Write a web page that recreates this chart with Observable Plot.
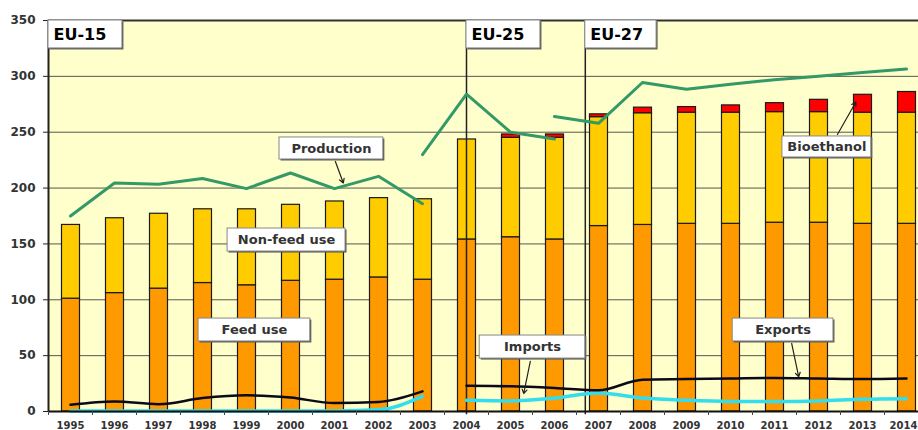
<!DOCTYPE html>
<html><head><meta charset="utf-8">
<script src="https://cdn.jsdelivr.net/npm/d3@7"></script>
<script src="https://cdn.jsdelivr.net/npm/@observablehq/plot@0.6"></script>
<style>
body{margin:0;background:#fff;}
#chart svg{display:block;}
</style></head><body><div id="chart"></div>
<script>
// ---- data (million tonnes) ----
const years = [1995,1996,1997,1998,1999,2000,2001,2002,2003,2004,2005,2006,2007,2008,2009,2010,2011,2012,2013,2014];
const feedUse    = [101,106,110,115,113,117,118,120,118,154,156,154,166,167,168,168,169,169,168,168];
const nonFeedUse = [66,67,67,66,68,68,70,71,72,89.5,89,91,97.5,100,99.5,99.5,99,99,99.5,99.5];
const bioethanol = [0,0,0,0,0,0,0,0,0,0,3,3,2.5,5,5,6.5,8,11,16,18.5];

const yearsEU15 = [1995,1996,1997,1998,1999,2000,2001,2002,2003];
const yearsEU25 = [2003,2004,2005,2006];
const yearsEU27 = [2006,2007,2008,2009,2010,2011,2012,2013,2014];
const yearsEU   = [2004,2005,2006,2007,2008,2009,2010,2011,2012,2013,2014];

const productionEU15 = [175,204.5,203.5,208.5,199.5,213.5,199.5,210.5,186];
const productionEU25 = [230,284,250,244];
const productionEU27 = [264,258,294.5,288.5,293,297,300,303.5,306.5];

const exportsEU15 = [6,9,6.5,12,14.5,12.5,7.5,8.5,18];
const exportsEU   = [23,22.5,21,19,28.5,29,29.5,30,29.5,29,29.5];
const importsEU15 = [0.5,0.5,0.5,0.5,0.5,0.5,0.5,1.5,13.5];
const importsEU   = [10,9.5,12,16.5,12,10,9,9,9.5,11,11.5];

const yTicks = [0,50,100,150,200,250,300,350];
const barTypes = ["Feed use","Non-feed use","Bioethanol"];

// ---- tables built from the arrays ----
const bars = [];
years.forEach((yr, i) => {
  [[barTypes[0], feedUse[i]], [barTypes[1], nonFeedUse[i]], [barTypes[2], bioethanol[i]]]
    .forEach(([type, value]) => { if (value > 0) bars.push({year: yr, type, value}); });
});
const series = (name, ys, vs) => ys.map((yr, i) => ({series: name, year: yr, value: vs[i]}));
const production = [
  ...series("EU-15", yearsEU15, productionEU15),
  ...series("EU-25", yearsEU25, productionEU25),
  ...series("EU-27", yearsEU27, productionEU27)
];
const exportsRows = [...series("EU-15", yearsEU15, exportsEU15), ...series("EU", yearsEU, exportsEU)];
const importsRows = [...series("EU-15", yearsEU15, importsEU15), ...series("EU", yearsEU, importsEU)];
const boundaries = years.map(y => y - 0.5).concat([2014.5]);

// ---- annotations (data coordinates) ----
const annoLabels = ["EU-15","EU-25","EU-27","Production","Non-feed use","Feed use","Imports","Exports","Bioethanol"];
const annoX1 = [1994.5, 2004.0, 2006.7, 1999.75, 1998.57, 1997.91, 2004.3, 2010.05, 2011.18];
const annoX2 = [1996.18, 2005.68, 2008.32, 2002.11, 2001.25, 2000.45, 2006.7, 2012.34, 2013.2];
const annoY1 = [325, 325, 325, 225.6, 143.2, 62.7, 47.4, 62.7, 227.4];
const annoY2 = [350, 350, 350, 245.3, 163.8, 83.2, 68, 83.2, 246.2];
const annos = annoLabels.map((t, i) => ({text: t, x1: annoX1[i], x2: annoX2[i], y1: annoY1[i], y2: annoY2[i], big: i < 3}));
const arrows = [
  {x1: 2001.02, y1: 223.8, x2: 2001.2, y2: 204.5},
  {x1: 2005.45, y1: 44.8, x2: 2005.3, y2: 16},
  {x1: 2011.39, y1: 60.9, x2: 2011.55, y2: 31},
  {x1: 2012.43, y1: 248.0, x2: 2012.85, y2: 277}
];
const separators = [2004.0, 2006.7];

const chart = Plot.plot({
  width: 918,
  height: 430,
  marginLeft: 48,
  marginRight: 0,
  marginTop: 20,
  marginBottom: 19,
  style: {fontFamily: "'DejaVu Sans', sans-serif", fontWeight: "bold", background: "#fff", overflow: "hidden"},
  x: {type: "linear", domain: [1994.5, 2014.5], range: [48, 928], axis: null},
  y: {domain: [0, 350], axis: null},
  color: {domain: barTypes, range: ["#FF9900", "#FFCC00", "#FF0000"]},
  marks: [
    Plot.frame({fill: "#FFFFCC", stroke: null}),
    Plot.gridY(yTicks, {stroke: "#444", strokeOpacity: 0.9, strokeWidth: 1}),
    Plot.rectY(bars, Plot.stackY({
      x1: d => d.year - 0.5, x2: d => d.year + 0.5, y: "value", fill: "type",
      insetLeft: 13.5, insetRight: 12.5, stroke: "#1a1a1a", strokeWidth: 1.2
    })),
    Plot.ruleX(separators, {y1: -3, y2: 350, stroke: "#222", strokeWidth: 1.5}),
    Plot.line(importsRows, {x: "year", y: "value", z: "series", stroke: "#33DDEE", strokeWidth: 3.5, curve: "monotone-x"}),
    Plot.line(exportsRows, {x: "year", y: "value", z: "series", stroke: "#0a0a1a", strokeWidth: 2.5, curve: "monotone-x"}),
    Plot.line(production, {x: "year", y: "value", z: "series", stroke: "#339966", strokeWidth: 3}),
    Plot.ruleX([1994.5], {stroke: "#222", strokeWidth: 2}),
    Plot.ruleY([350], {stroke: "#333", strokeWidth: 2}),
    Plot.ruleY([0], {stroke: "#111", strokeWidth: 2}),
    Plot.axisY(yTicks, {tickSize: 5, tickPadding: 8, fontSize: 12, fill: "#333", stroke: "#222"}),
    Plot.axisX(boundaries, {tickSize: 4, tickFormat: () => "", stroke: "#444"}),
    Plot.axisX(years.slice(0, -1), {tickSize: 0, tickPadding: 10, fontSize: 10, fill: "#333", tickFormat: d => String(d)}),
    Plot.axisX(years.slice(-1), {tickSize: 0, tickPadding: 10, fontSize: 10, fill: "#333", dx: -3, tickFormat: d => String(d)}),
    Plot.arrow(arrows, {x1: "x1", y1: "y1", x2: "x2", y2: "y2", stroke: "#222", strokeWidth: 1.2, headLength: 6}),
    Plot.rect(annos, {x1: "x1", x2: "x2", y1: "y1", y2: "y2", fill: "#555", dx: 1.5, dy: 1.5}),
    Plot.rect(annos, {x1: "x1", x2: "x2", y1: "y1", y2: "y2", fill: "white", stroke: "#888", strokeWidth: 1}),
    Plot.text(annos.filter(d => !d.big), {x: d => (d.x1 + d.x2) / 2, y: d => (d.y1 + d.y2) / 2, text: "text", fontSize: 13, fill: "#333"}),
    Plot.text(annos.filter(d => d.big), {x: "x1", y: d => (d.y1 + d.y2) / 2, text: "text", textAnchor: "start", dx: 5, fontSize: 16, fill: "#000"})
  ]
});
document.getElementById("chart").appendChild(chart);
</script>
</body></html>
